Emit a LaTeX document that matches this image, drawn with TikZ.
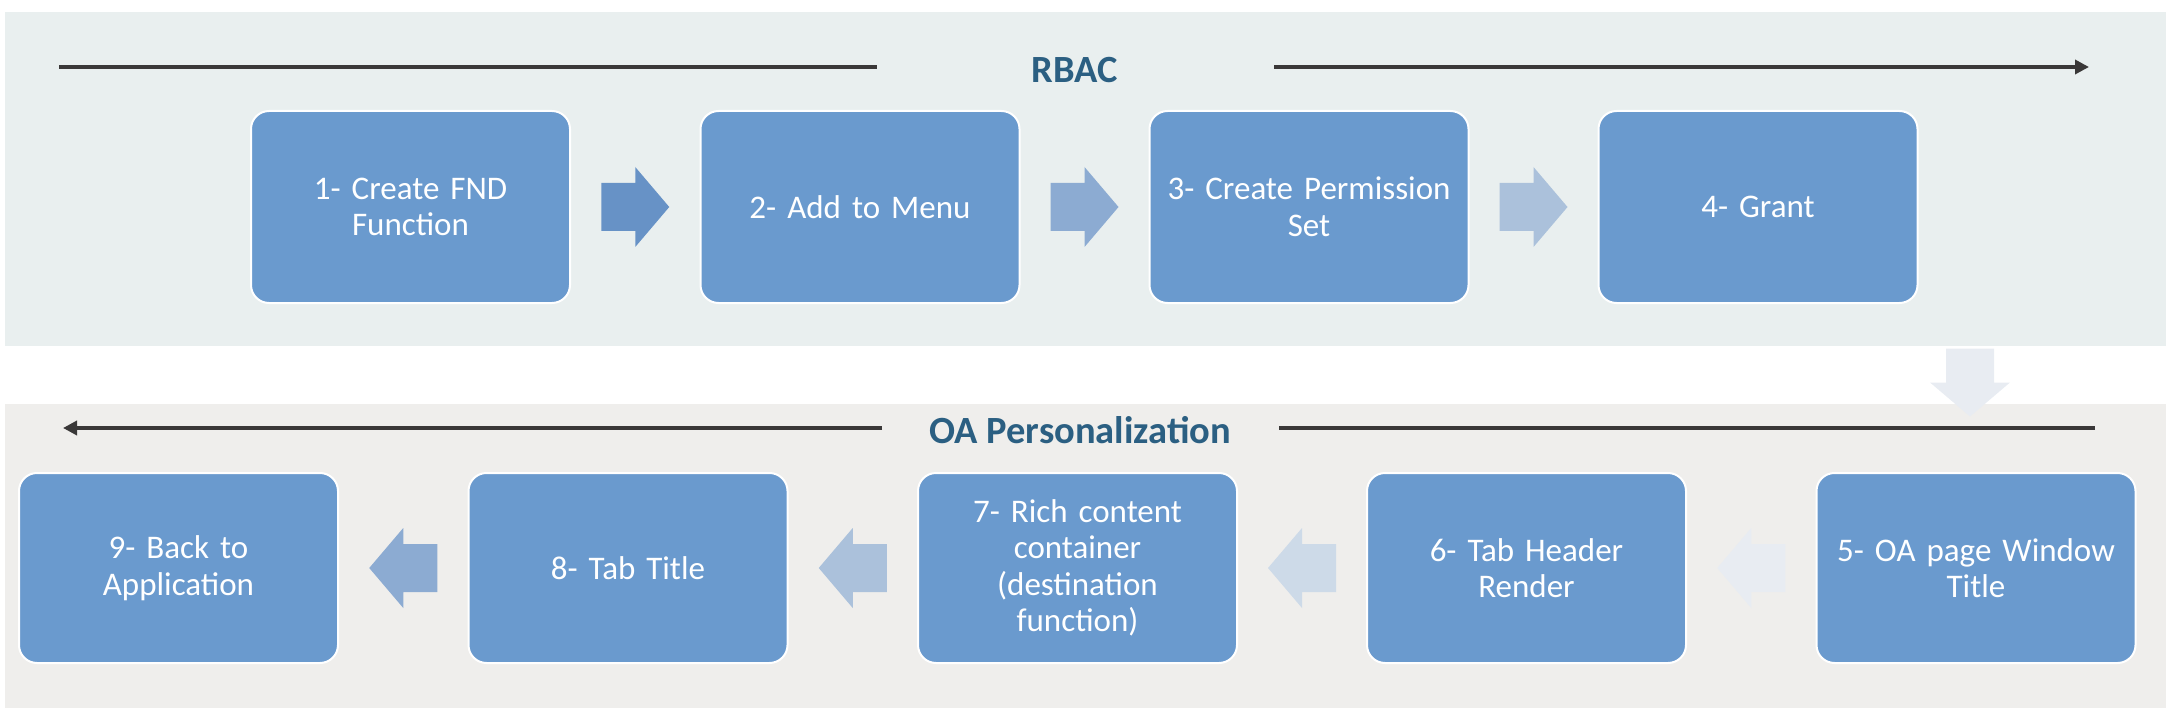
\documentclass[tikz,border=0pt]{standalone}
\usepackage{fontspec}
\setmainfont{Carlito}
\usetikzlibrary{calc,arrows.meta}
\definecolor{panelA}{HTML}{E9EFEF}
\definecolor{panelB}{HTML}{EFEEEC}
\definecolor{boxfill}{HTML}{6A9ACE}
\definecolor{titlec}{HTML}{2B5F82}
\definecolor{linec}{HTML}{3A3838}
\definecolor{arA}{HTML}{6792C6}
\definecolor{arB}{HTML}{8CABD2}
\definecolor{arC}{HTML}{ABC1DB}
\definecolor{arD}{HTML}{CDDAE8}
\definecolor{arE}{HTML}{E8ECF2}
\begin{document}
\begin{tikzpicture}[x=1pt,y=-1pt,
  stepbox/.style={draw=white, line width=2pt, fill=boxfill, rounded corners=18pt,
    minimum width=319pt, minimum height=192pt, text width=292pt, align=center,
    text=white, font=\fontsize{33}{36.5}\selectfont, inner sep=0pt},
  titletext/.style={text=titlec, font=\bfseries\fontsize{38.5}{40}\selectfont, inner sep=0pt, anchor=base},
  ruler/.style={draw=linec, line width=4pt},
  blockarrow/.pic={\path[pic actions] (-34,-24) -- (0,-24) -- (0,-40) -- (34,0) -- (0,40) -- (0,24) -- (-34,24) -- cycle;}
]
\useasboundingbox (0,0) rectangle (2172,714);
% panels
\fill[panelA] (5,12) rectangle (2166,346);
\fill[panelB] (5,404) rectangle (2166,708);

% titles
\node[titletext] (t1) at (1075,83) {RBAC};
\node[titletext] (t2) at (1080,443.3) {OA Personalization};

% title rulers
\coordinate (r1a) at (59,67);
\coordinate (r1b) at (877,67);
\coordinate (r1c) at (1274,67);
\coordinate (r1d) at (2089,67);
\draw[ruler] (r1a) -- (r1b);
\draw[ruler,-{Triangle[length=14pt,width=14pt]}] (r1c) -- (r1d);
\coordinate (o1a) at (2095,428);
\coordinate (o1b) at (1279,428);
\coordinate (o1c) at (882,428);
\coordinate (o1d) at (63,428);
\draw[ruler] (o1a) -- (o1b);
\draw[ruler,-{Triangle[length=14pt,width=14pt]}] (o1c) -- (o1d);

% row 1
\node[stepbox] (b1) at (410.5,207) {1- Create FND\\Function};
\node[stepbox] (b2) at (860,207) {2- Add to Menu};
\node[stepbox] (b3) at (1309,207) {3- Create Permission\\Set};
\node[stepbox] (b4) at (1758,207) {4- Grant};

% row 2
\node[stepbox, minimum height=190pt] (b5) at (1976,568) {5- OA page Window\\Title};
\node[stepbox, minimum height=190pt] (b6) at (1526.5,568) {6- Tab Header\\Render};
\node[stepbox, minimum height=190pt] (b7) at (1077.5,568) {7- Rich content\\container\\(destination\\function)};
\node[stepbox, minimum height=190pt] (b8) at (628,568) {8- Tab Title};
\node[stepbox, minimum height=190pt] (b9) at (178.5,568) {9- Back to\\Application};

% block arrows row 1
\pic[fill=arA] at ($(b1.east)!0.5!(b2.west)$) {blockarrow};
\pic[fill=arB] at ($(b2.east)!0.5!(b3.west)$) {blockarrow};
\pic[fill=arC] at ($(b3.east)!0.5!(b4.west)$) {blockarrow};

% down arrow 4 -> 5
\coordinate (c45) at (1970,382.5);
\pic[fill=arE, rotate=-90] at (c45) {blockarrow};

% block arrows row 2
\pic[fill=arE, rotate=180] at ($(b5.west)!0.5!(b6.east)$) {blockarrow};
\pic[fill=arD, rotate=180] at ($(b6.west)!0.5!(b7.east)$) {blockarrow};
\pic[fill=arC, rotate=180] at ($(b7.west)!0.5!(b8.east)$) {blockarrow};
\pic[fill=arB, rotate=180] at ($(b8.west)!0.5!(b9.east)$) {blockarrow};
\end{tikzpicture}
\end{document}
